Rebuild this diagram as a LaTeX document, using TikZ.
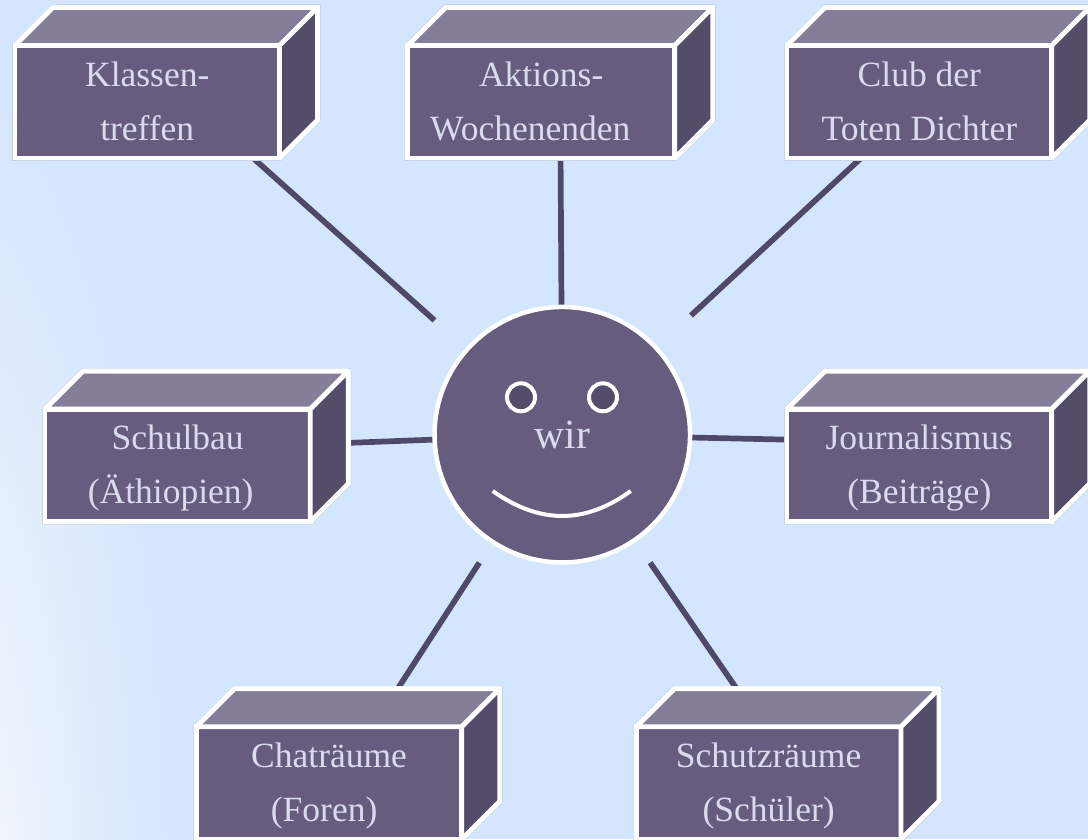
\documentclass[tikz,border=0pt]{standalone}
\usepackage{fontspec}
\setmainfont{Liberation Serif}
\usetikzlibrary{calc,backgrounds}

\definecolor{skyblue}{HTML}{D4E6FD}
\definecolor{cornerwhite}{HTML}{EFF4FB}
\definecolor{frontcol}{HTML}{655C7E}
\definecolor{topcol}{HTML}{847E98}
\definecolor{sidecol}{HTML}{544D6A}
\definecolor{linkcol}{HTML}{4F4868}
\definecolor{labelcol}{HTML}{DADBEE}
\definecolor{rimcol}{HTML}{AEBCD2}

\pgfdeclareradialshading{cornerglow}{\pgfpoint{0bp}{0bp}}{color(0bp)=(cornerwhite); color(5bp)=(cornerwhite); color(17bp)=(skyblue); color(50bp)=(skyblue)}

\tikzset{
  boxfront/.style={rectangle, draw=white, fill=frontcol, line width=4.8pt, inner sep=0pt, outer sep=0pt, minimum height=112.5pt, text=labelcol, align=center, text height=76pt, text depth=0pt, font=\fontsize{35.5}{54}\selectfont},
  boxface/.style={draw=white, line width=4.8pt, line join=bevel},
  link/.style={draw=linkcol, line width=5.7pt},
  eye/.style={circle, draw=white, fill=sidecol, line width=4pt, inner sep=0pt, outer sep=0pt, minimum size=28pt}
}

\begin{document}
\begin{tikzpicture}[x=1pt,y=-1pt]
  \useasboundingbox (0,0) rectangle (1088,839);

  \node[boxfront, text height=78pt, minimum width=264.5pt] (klassen) at (147.25,101.75) {Klassen-\\treffen};
  \node[boxfront, text height=78pt, minimum width=267pt] (aktions) at (541.2,101.75) {Aktions-\\\hspace*{-22pt}Wochenenden};
  \node[boxfront, text height=78pt, minimum width=264.7pt] (club) at (919.35,101.75) {Club der\\Toten Dichter};
  \node[boxfront, minimum width=265.3pt] (schulbau) at (177.65,465.35) {Schulbau\\\hspace*{-14pt}(Äthiopien)};
  \node[boxfront, minimum width=264.7pt] (journal) at (919.35,465.35) {Journalismus\\(Beiträge)};
  \node[boxfront, minimum width=265.2pt] (chat) at (329.1,783.05) {Chaträume\\\hspace*{-10pt}(Foren)};
  \node[boxfront, minimum width=264.7pt] (schutz) at (768.65,783.05) {Schutzräume\\(Schüler)};

  \foreach \name in {klassen,aktions,club,schulbau,journal,chat,schutz} {
    \draw[boxface, fill=topcol] (\name.north west) -- ($(\name.north west)+(38,-38)$) -- ($(\name.north east)+(38,-38)$) -- (\name.north east) -- cycle;
    \draw[boxface, fill=sidecol] (\name.north east) -- ($(\name.north east)+(38,-38)$) -- ($(\name.south east)+(38,-38)$) -- (\name.south east) -- cycle;
  }

  \node[circle, draw=white, fill=frontcol, line width=4.5pt, inner sep=0pt, outer sep=0pt, minimum size=255.5pt, text=labelcol, text height=27pt, text depth=0pt, font=\fontsize{41.5}{41.5}\selectfont] (wir) at (562.3,434.7) {wir};
  \node[eye] (lefteye) at (521,397.3) {};
  \node[eye] (righteye) at (603,397.3) {};
  \draw[white, line width=4pt] (492.7,491) .. controls (540,524.3) and (585,524.3) .. (630.7,491);

  \begin{scope}[on background layer]
    \fill[skyblue] (0,0) rectangle (1088,839);
    \begin{scope}
      \clip (0,0) rectangle (1088,839);
      \path[shading=cornerglow] (-60,950) ellipse (340 and 1300);
    \end{scope}
    \draw[link, shorten >=43.7pt] (klassen.-28.7) -- (wir);
    \draw[link] (aktions.-71.05) -- (wir);
    \draw[link, shorten >=47.7pt] (club.-136.8) -- (wir);
    \draw[link] (schulbau.9.8) -- (wir);
    \draw[link] (journal.169.6) -- (wir);
    \draw[link, shorten >=24.8pt] (chat.52.2) -- (wir);
    \draw[link, shorten >=27.5pt] (schutz.96.1) -- (wir);
    \foreach \name in {klassen,aktions,club,schulbau,journal,chat,schutz} {
      \draw[rimcol, line width=5.6pt] (\name.north west) -- ($(\name.north west)+(38,-38)$) -- ($(\name.north east)+(38,-38)$) -- ($(\name.south east)+(38,-38)$) -- (\name.south east) -- (\name.south west) -- cycle;
      \draw[white, line width=4.8pt] (\name.north west) -- ($(\name.north west)+(38,-38)$) -- ($(\name.north east)+(38,-38)$) -- ($(\name.south east)+(38,-38)$) -- (\name.south east) -- (\name.south west) -- cycle;
    }
  \end{scope}
\end{tikzpicture}
\end{document}
